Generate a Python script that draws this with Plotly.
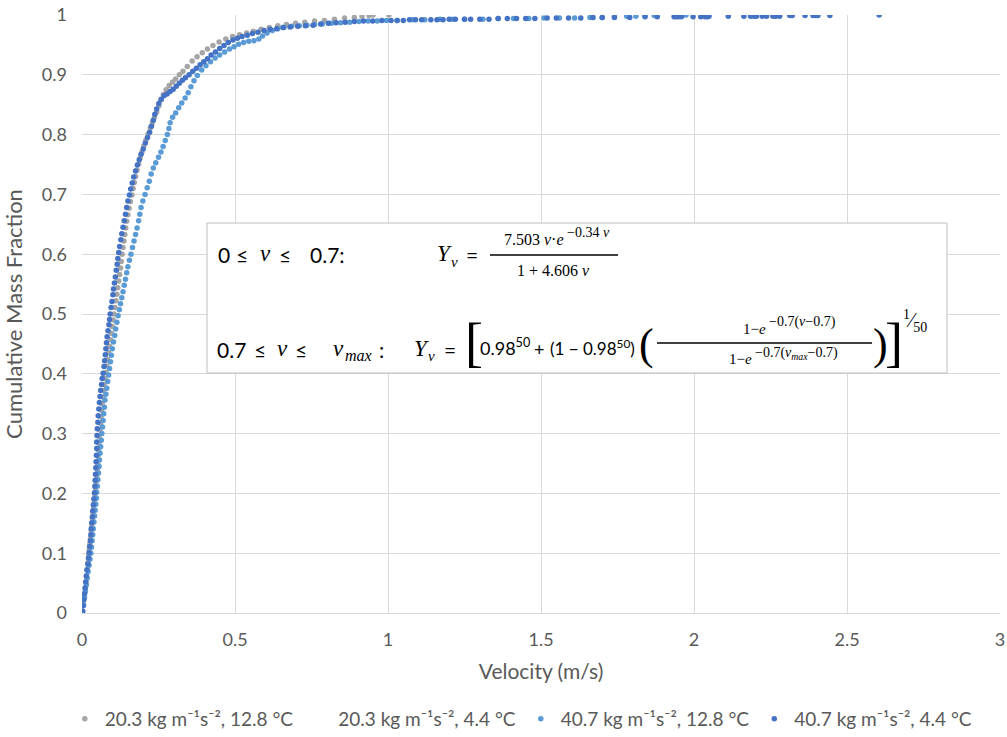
import plotly.graph_objects as go

# ---- series: velocity (m/s) and cumulative mass fraction ----
gray_v = [0.002, 0.005, 0.008, 0.011, 0.013, 0.015, 0.018, 0.020, 0.022, 0.024, 0.026, 0.028, 0.030, 0.032,
          0.034, 0.036, 0.038, 0.040, 0.042, 0.044, 0.046, 0.048, 0.050, 0.051, 0.052, 0.054, 0.055, 0.056,
          0.058, 0.060, 0.062, 0.064, 0.066, 0.068, 0.070, 0.072, 0.075, 0.078, 0.081, 0.084, 0.087, 0.090,
          0.093, 0.096, 0.099, 0.102, 0.105, 0.108, 0.111, 0.114, 0.117, 0.120, 0.123, 0.126, 0.128, 0.131,
          0.134, 0.137, 0.140, 0.143, 0.146, 0.150, 0.154, 0.158, 0.163, 0.167, 0.171, 0.175, 0.180, 0.185,
          0.190, 0.196, 0.202, 0.209, 0.216, 0.223, 0.230, 0.237, 0.244, 0.251, 0.258, 0.266, 0.275, 0.285,
          0.296, 0.306, 0.318, 0.330, 0.344, 0.360, 0.376, 0.393, 0.410, 0.428, 0.448, 0.470, 0.492, 0.515,
          0.538, 0.560, 0.585, 0.612, 0.640, 0.668, 0.698, 0.728, 0.760, 0.792, 0.825, 0.858, 0.890, 0.915,
          0.938, 0.951, 1.003]
gray_y = [0.003, 0.015, 0.028, 0.040, 0.052, 0.062, 0.074, 0.085, 0.096, 0.106, 0.116, 0.126, 0.137, 0.147,
          0.158, 0.168, 0.178, 0.188, 0.198, 0.208, 0.219, 0.229, 0.240, 0.251, 0.262, 0.273, 0.284, 0.295,
          0.306, 0.317, 0.328, 0.339, 0.350, 0.361, 0.372, 0.382, 0.392, 0.402, 0.413, 0.424, 0.435, 0.446,
          0.457, 0.468, 0.479, 0.490, 0.500, 0.511, 0.522, 0.533, 0.544, 0.555, 0.566, 0.577, 0.588, 0.600,
          0.611, 0.622, 0.633, 0.644, 0.655, 0.666, 0.677, 0.688, 0.699, 0.710, 0.720, 0.730, 0.741, 0.751,
          0.761, 0.771, 0.781, 0.791, 0.801, 0.811, 0.820, 0.829, 0.838, 0.848, 0.858, 0.867, 0.875, 0.882,
          0.888, 0.893, 0.900, 0.906, 0.914, 0.923, 0.930, 0.937, 0.943, 0.949, 0.955, 0.960, 0.964, 0.967,
          0.970, 0.973, 0.976, 0.979, 0.982, 0.984, 0.986, 0.988, 0.990, 0.991, 0.993, 0.995, 0.996, 0.998,
          0.999, 1.000, 1.000]

light_v = [0.002, 0.005, 0.008, 0.011, 0.014, 0.017, 0.020, 0.023, 0.026, 0.029, 0.031, 0.033, 0.035, 0.037,
           0.039, 0.041, 0.043, 0.045, 0.047, 0.048, 0.050, 0.052, 0.054, 0.056, 0.057, 0.059, 0.061, 0.063,
           0.065, 0.067, 0.069, 0.071, 0.073, 0.075, 0.078, 0.081, 0.084, 0.087, 0.090, 0.093, 0.096, 0.099,
           0.103, 0.107, 0.110, 0.114, 0.118, 0.122, 0.126, 0.130, 0.134, 0.138, 0.142, 0.146, 0.150, 0.155,
           0.160, 0.165, 0.170, 0.175, 0.180, 0.185, 0.189, 0.193, 0.199, 0.206, 0.213, 0.220, 0.226, 0.233,
           0.241, 0.250, 0.258, 0.265, 0.272, 0.279, 0.284, 0.288, 0.296, 0.306, 0.316, 0.326, 0.337, 0.347,
           0.356, 0.366, 0.377, 0.391, 0.405, 0.420, 0.435, 0.450, 0.466, 0.482, 0.497, 0.512, 0.528, 0.545,
           0.562, 0.578, 0.590, 0.605, 0.622, 0.640, 0.660, 0.685, 0.710, 0.735, 0.760, 0.785, 0.815, 0.845,
           0.875, 0.905, 0.935, 0.965, 0.995, 1.030, 1.080, 1.120, 1.170, 1.210, 1.250, 1.310, 1.360, 1.410,
           1.460, 1.510, 1.560, 1.610, 1.660, 1.700, 1.740, 1.780, 1.810, 1.840, 1.870, 1.964, 1.974]
light_y = [0.003, 0.013, 0.025, 0.036, 0.047, 0.058, 0.069, 0.080, 0.090, 0.100, 0.110, 0.121, 0.131, 0.141,
           0.152, 0.162, 0.172, 0.182, 0.192, 0.202, 0.212, 0.223, 0.234, 0.245, 0.256, 0.267, 0.278, 0.289,
           0.300, 0.311, 0.322, 0.333, 0.344, 0.356, 0.366, 0.376, 0.387, 0.398, 0.409, 0.420, 0.431, 0.442,
           0.453, 0.464, 0.475, 0.486, 0.497, 0.507, 0.517, 0.527, 0.537, 0.548, 0.558, 0.569, 0.579, 0.590,
           0.600, 0.611, 0.622, 0.633, 0.644, 0.656, 0.667, 0.678, 0.689, 0.700, 0.711, 0.722, 0.734, 0.744,
           0.753, 0.762, 0.771, 0.780, 0.790, 0.800, 0.810, 0.820, 0.829, 0.836, 0.845, 0.853, 0.861, 0.870,
           0.880, 0.890, 0.899, 0.908, 0.915, 0.922, 0.928, 0.933, 0.938, 0.943, 0.947, 0.951, 0.954, 0.956,
           0.957, 0.960, 0.965, 0.970, 0.974, 0.977, 0.979, 0.981, 0.982, 0.983, 0.984, 0.985, 0.986, 0.987,
           0.988, 0.989, 0.990, 0.990, 0.991, 0.991, 0.992, 0.992, 0.993, 0.993, 0.993, 0.993, 0.994, 0.994,
           0.994, 0.995, 0.995, 0.995, 0.996, 0.996, 0.997, 0.998, 0.998, 0.999, 0.999, 0.9995, 1.000]

dark_v = [0.002, 0.004, 0.006, 0.008, 0.010, 0.012, 0.014, 0.016, 0.019, 0.021, 0.023, 0.025, 0.027, 0.029,
          0.030, 0.032, 0.034, 0.035, 0.037, 0.039, 0.041, 0.042, 0.043, 0.044, 0.045, 0.046, 0.047, 0.048,
          0.048, 0.049, 0.050, 0.052, 0.053, 0.055, 0.057, 0.059, 0.061, 0.064, 0.066, 0.069, 0.072, 0.074,
          0.076, 0.078, 0.080, 0.082, 0.085, 0.088, 0.090, 0.092, 0.095, 0.098, 0.101, 0.103, 0.106, 0.109,
          0.112, 0.115, 0.117, 0.120, 0.123, 0.127, 0.130, 0.134, 0.138, 0.142, 0.146, 0.150, 0.155, 0.159,
          0.164, 0.169, 0.175, 0.181, 0.187, 0.193, 0.200, 0.207, 0.214, 0.221, 0.227, 0.233, 0.238, 0.244,
          0.251, 0.259, 0.268, 0.278, 0.288, 0.298, 0.308, 0.318, 0.328, 0.338, 0.350, 0.362, 0.374, 0.386,
          0.398, 0.410, 0.422, 0.436, 0.450, 0.464, 0.478, 0.493, 0.508, 0.523, 0.540, 0.557, 0.575, 0.595,
          0.615, 0.636, 0.657, 0.680, 0.705, 0.730, 0.755, 0.780, 0.805, 0.830, 0.860, 0.890, 0.920, 0.950,
          0.980, 1.010, 1.030, 1.050, 1.070, 1.090, 1.110, 1.140, 1.160, 1.180, 1.200, 1.220, 1.250, 1.270,
          1.300, 1.330, 1.360, 1.390, 1.420, 1.450, 1.480, 1.520, 1.550, 1.590, 1.630, 1.670, 1.700, 1.740,
          1.790, 1.840, 1.880, 1.935, 1.942, 1.950, 1.959, 1.997, 2.022, 2.036, 2.044, 2.049, 2.112, 2.163,
          2.185, 2.196, 2.204, 2.223, 2.237, 2.258, 2.267, 2.280, 2.313, 2.321, 2.363, 2.389, 2.398, 2.405,
          2.444, 2.605]
dark_y = [0.003, 0.012, 0.022, 0.032, 0.042, 0.052, 0.062, 0.072, 0.082, 0.092, 0.101, 0.111, 0.121, 0.131,
          0.141, 0.151, 0.161, 0.171, 0.181, 0.191, 0.201, 0.212, 0.222, 0.232, 0.243, 0.253, 0.264, 0.275,
          0.286, 0.297, 0.308, 0.319, 0.330, 0.341, 0.352, 0.362, 0.372, 0.382, 0.392, 0.401, 0.412, 0.422,
          0.432, 0.442, 0.452, 0.462, 0.472, 0.482, 0.491, 0.500, 0.511, 0.521, 0.532, 0.542, 0.552, 0.562,
          0.573, 0.583, 0.593, 0.603, 0.613, 0.624, 0.634, 0.645, 0.656, 0.667, 0.678, 0.689, 0.699, 0.709,
          0.719, 0.729, 0.739, 0.749, 0.758, 0.767, 0.776, 0.786, 0.795, 0.804, 0.814, 0.824, 0.834, 0.843,
          0.852, 0.859, 0.865, 0.868, 0.872, 0.876, 0.881, 0.886, 0.891, 0.895, 0.900, 0.906, 0.911, 0.917,
          0.922, 0.927, 0.933, 0.938, 0.944, 0.949, 0.954, 0.958, 0.961, 0.964, 0.966, 0.969, 0.971, 0.974,
          0.976, 0.977, 0.979, 0.980, 0.981, 0.982, 0.983, 0.985, 0.986, 0.987, 0.988, 0.989, 0.990, 0.990,
          0.991, 0.991, 0.991, 0.991, 0.992, 0.992, 0.992, 0.992, 0.992, 0.992, 0.993, 0.993, 0.993, 0.993,
          0.993, 0.993, 0.994, 0.994, 0.994, 0.994, 0.994, 0.995, 0.995, 0.995, 0.995, 0.996, 0.996, 0.996,
          0.996, 0.997, 0.997, 0.997, 0.997, 0.997, 0.997, 0.997, 0.997, 0.997, 0.997, 0.998, 0.998, 0.998,
          0.998, 0.998, 0.998, 0.998, 0.998, 0.998, 0.998, 0.998, 0.999, 0.999, 0.999, 0.999, 0.999, 0.999,
          0.999, 1.000]

series_names = [
    "20.3 kg m\u207b\u00b9s\u207b\u00b2, 12.8 \u00b0C",
    "20.3 kg m\u207b\u00b9s\u207b\u00b2, 4.4 \u00b0C",
    "40.7 kg m\u207b\u00b9s\u207b\u00b2, 12.8 \u00b0C",
    "40.7 kg m\u207b\u00b9s\u207b\u00b2, 4.4 \u00b0C",
]
x_ticks = [0, 0.5, 1, 1.5, 2, 2.5, 3]
y_ticks = [0, 0.1, 0.2, 0.3, 0.4, 0.5, 0.6, 0.7, 0.8, 0.9, 1]

GRAY = "#A5A5A5"
LIGHT = "#5B9BD5"
DARK = "#4472C4"
TEXT = "#595959"
GRID = "#D9D9D9"
SANS = "Lato, 'Open Sans', sans-serif"
SERIF = "'Liberation Serif', 'DejaVu Serif', serif"
MSIZE = 5.5

fig = go.Figure()
fig.add_trace(go.Scatter(x=gray_v, y=gray_y, mode="markers", name=series_names[0],
                         marker=dict(color=GRAY, size=MSIZE)))
# second series carries no visible markers
fig.add_trace(go.Scatter(x=[None], y=[None], mode="markers", name=series_names[1],
                         marker=dict(color="rgba(0,0,0,0)", size=MSIZE)))
fig.add_trace(go.Scatter(x=light_v, y=light_y, mode="markers", name=series_names[2],
                         marker=dict(color=LIGHT, size=MSIZE)))
fig.add_trace(go.Scatter(x=dark_v, y=dark_y, mode="markers", name=series_names[3],
                         marker=dict(color=DARK, size=MSIZE)))

# plot-area geometry in pixels (used for placing the equation panel)
FW, FH = 1007, 737
L, R, T, B = 82, 1000, 15, 613
W, H = R - L, B - T


def px(x):
    return (x - L) / W


def py(y):
    return (B - y) / H


annotations = []


def note(text, x, y, size, family=SERIF, xanchor="left", yanchor="middle"):
    annotations.append(dict(text=text, x=px(x), y=py(y), xref="paper", yref="paper",
                            showarrow=False, xanchor=xanchor, yanchor=yanchor, borderpad=0,
                            font=dict(size=size, family=family, color="#000000")))


v = "<i>v</i>"
MAIN = 21
# ---- first branch: 0 <= v <= 0.7 ----
y1 = 255
note("0", 217, y1, MAIN, SANS)
note("\u2264", 235, y1, MAIN, SANS)
note(v, 259, y1 - 1, MAIN + 2)
note("\u2264", 278, y1, MAIN, SANS)
note("0.7:", 309, y1, MAIN, SANS)
note("<i>Y</i>", 436, y1 - 1, MAIN + 2)
note(v, 450, y1 + 7, 15)
note("=", 465, y1, MAIN, SANS)
note(f"7.503 {v}\u00b7<i>e</i>", 565, 240, 16, xanchor="right")
note(f"\u22120.34 {v}", 566, 232, 14)
note(f"1 + 4.606 {v}", 553, 270, 16, xanchor="center")

# ---- second branch: 0.7 <= v <= v_max ----
y2 = 349
note("0.7", 216, y2, MAIN, SANS)
note("\u2264", 253, y2, MAIN, SANS)
note(v, 276, y2 - 1, MAIN + 2)
note("\u2264", 294, y2, MAIN, SANS)
note(v, 332, y2 - 1, MAIN + 2)
note("<i>max</i>", 344, y2 + 6, 16)
note(":", 378, y2, MAIN, SANS)
note("<i>Y</i>", 413, y2 - 1, MAIN + 2)
note(v, 427, y2 + 7, 15)
note("=", 443, y2, MAIN, SANS)
note("[", 464, y2 - 6, 54, SERIF)
note("0.98<sup>50</sup>", 479, y2 - 2, 18, SANS)
note("+", 533, y2, 18, SANS)
note("(1 \u2212 0.98<sup>50</sup>)", 549, y2 - 2, 17, SANS)
note("(", 638, y2 - 5, 44, SERIF)
note(f"1\u2212<i>e</i>", 767, 329, 15, xanchor="right")
note(f"\u22120.7({v}\u22120.7)", 768, 322, 14)
note(f"1\u2212<i>e</i>", 753, 359, 15, xanchor="right")
note(f"\u22120.7(<i>v</i><sub><i>max</i></sub>\u22120.7)", 754, 353, 14)
note(")", 872, y2 - 5, 44, SERIF)
note("]", 884, y2 - 6, 54, SERIF)
note("<sup>1</sup>\u2044<sub>50</sub>", 902, 321, 20, SERIF)

shapes = [
    dict(type="rect", xref="paper", yref="paper", x0=px(207), x1=px(947), y0=py(373), y1=py(223),
         line=dict(color="#BFBFBF", width=1), fillcolor="white", layer="above"),
    dict(type="line", xref="paper", yref="paper", x0=px(490), x1=px(618), y0=py(255), y1=py(255),
         line=dict(color="black", width=1.5), layer="above"),
    dict(type="line", xref="paper", yref="paper", x0=px(657), x1=px(872), y0=py(343), y1=py(343),
         line=dict(color="black", width=1.3), layer="above"),
]

fig.update_layout(
    width=FW, height=FH,
    margin=dict(l=L, r=FW - R, t=T, b=FH - B, autoexpand=False),
    paper_bgcolor="white", plot_bgcolor="white",
    font=dict(family=SANS, color=TEXT, size=18),
    showlegend=True,
    legend=dict(orientation="h", x=0.478, xanchor="center",
                yref="container", y=(FH - 719) / FH, yanchor="middle",
                font=dict(size=19, color=TEXT), itemwidth=30, tracegroupgap=0),
    annotations=annotations,
    shapes=shapes,
)
fig.update_xaxes(range=[0, 3], tickvals=x_ticks, ticktext=[f"{t:g}" for t in x_ticks],
                 showgrid=True, gridcolor=GRID, gridwidth=1, zeroline=False,
                 showline=True, linecolor=GRID, ticks="", tickfont=dict(size=18, color=TEXT),
                 ticklabelstandoff=10, automargin=False,
                 title=dict(text="Velocity (m/s)", font=dict(size=21, color=TEXT), standoff=15))
fig.update_yaxes(range=[0, 1], tickvals=y_ticks, ticktext=[f"{t:g}" for t in y_ticks],
                 showgrid=True, gridcolor=GRID, gridwidth=1, zeroline=False,
                 showline=False, ticks="", tickfont=dict(size=18, color=TEXT),
                 ticklabelstandoff=14, automargin=False,
                 title=dict(text="Cumulative Mass Fraction", font=dict(size=22, color=TEXT), standoff=14))

fig.write_html("out.html")
